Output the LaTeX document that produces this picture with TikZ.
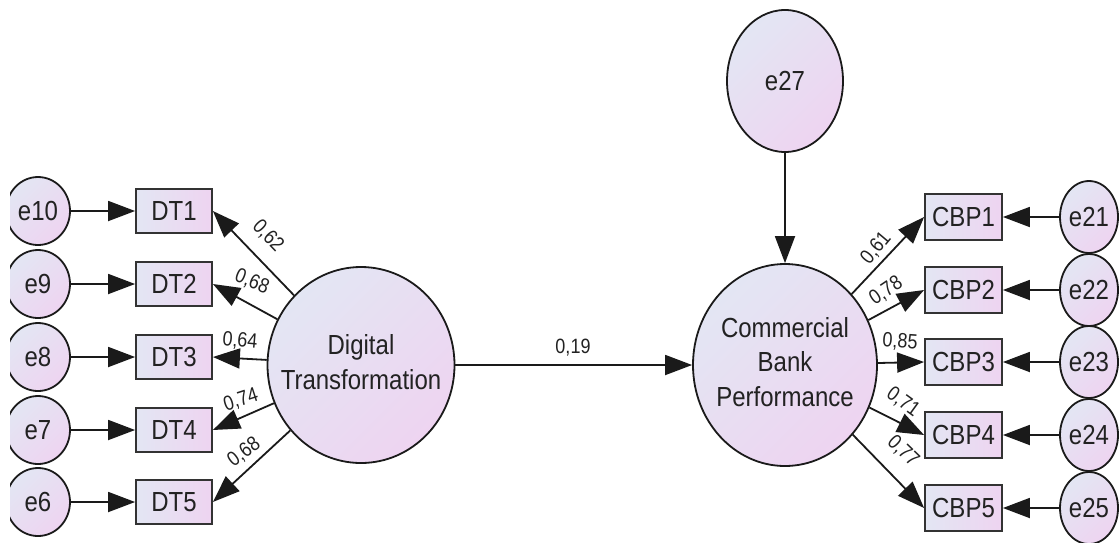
\documentclass[tikz,border=0pt]{standalone}
\usepackage{graphicx}
\usepackage{fontspec}
\setmainfont{Liberation Sans}
\usetikzlibrary{arrows.meta,shapes.geometric}

\definecolor{fillA}{HTML}{E3E6F3}
\definecolor{fillB}{HTML}{EED4F1}
\definecolor{edgeC}{HTML}{1A1A1A}
\definecolor{inkC}{HTML}{222222}

% text is set slightly taller than wide; zero width so the shape keeps its set size
\newcommand{\tall}[1]{\scalebox{1}[1.15]{#1}}
\newcommand{\inside}[1]{\makebox[0pt]{\tall{#1}}}

\tikzset{
  latent/.style={ellipse, draw=edgeC, line width=1.8pt, inner sep=0pt,
    top color=fillA, bottom color=fillB, shading angle=45,
    font=\fontsize{24}{30}\selectfont, text=inkC},
  obsbox/.style={rectangle, draw=black!80, line width=1.8pt, inner sep=0pt,
    minimum width=76pt, minimum height=44pt,
    left color=fillA, right color=fillB,
    font=\fontsize{24}{30}\selectfont, text=inkC},
  errc/.style={latent, minimum width=64pt, minimum height=68pt},
  errr/.style={latent, minimum width=58pt, minimum height=72pt},
  conn/.style={draw=edgeC, line width=1.8pt, -{Triangle[length=27pt,width=20pt]}},
  coef/.style={font=\fontsize{18}{20}\selectfont, inner sep=0pt, text=inkC},
}

\begin{document}
\begin{tikzpicture}[x=1pt,y=-1pt]
\useasboundingbox (0,0) rectangle (1119,542);

% latent constructs
\node[latent, minimum width=187pt, minimum height=196pt] (dt) at (361,365)
  {\inside{\begin{tabular}{@{}c@{}}Digital\\Transformation\end{tabular}}};
\node[latent, minimum width=184pt, minimum height=202pt] (cbp) at (785,365)
  {\inside{\begin{tabular}{@{}c@{}}Commercial\\Bank\\Performance\end{tabular}}};
\node[latent, minimum width=116pt, minimum height=142pt] (e27) at (785,81) {\inside{e27}};

% indicators of Digital Transformation
\foreach \i/\y in {1/211,2/284,3/357,4/430,5/502}
  \node[obsbox] (dt\i) at (174,\y) {\tall{DT\i}};

% indicators of Commercial Bank Performance
\foreach \i/\y in {1/217,2/290,3/362,4/435,5/508}
  \node[obsbox, minimum width=77pt, minimum height=46pt] (cbp\i) at (963.5,\y) {\tall{CBP\i}};

% error terms, left column (cut by the left margin)
\begin{scope}
  \clip (10,0) rectangle (1119,542);
  \foreach \n/\y in {10/211,9/284,8/357,7/430,6/502}
    \node[errc] (e\n) at (38,\y) {\inside{e\n}};
\end{scope}

% error terms, right column
\foreach \n/\y in {21/217,22/290,23/362,24/435,25/508}
  \node[errr] (e\n) at (1089,\y) {\inside{e\n}};

% error paths
\foreach \n/\i in {10/1,9/2,8/3,7/4,6/5}
  \draw[conn] (e\n) -- (dt\i);
\foreach \n/\i in {21/1,22/2,23/3,24/4,25/5}
  \draw[conn] (e\n) -- (cbp\i);
\draw[conn] (e27) -- (cbp);

% loadings
\foreach \i in {1,...,5}
  \draw[conn] (dt) -- (dt\i.east);
\foreach \i in {1,...,5}
  \draw[conn] (cbp) -- (cbp\i.west);

% structural path
\draw[conn] (dt) -- (cbp);

% coefficients
\node[coef] (c19) at (573,348) {\tall{0,19}};
\node[coef, rotate=-46] (l1) at (268,236) {\tall{0,62}};
\node[coef, rotate=-22] (l2) at (252,282) {\tall{0,68}};
\node[coef, rotate=-5]  (l3) at (240,341) {\tall{0,64}};
\node[coef, rotate=18]  (l4) at (241,400) {\tall{0,74}};
\node[coef, rotate=37]  (l5) at (244,452) {\tall{0,68}};
\node[coef, rotate=50]  (r1) at (876,248) {\tall{0,61}};
\node[coef, rotate=34]  (r2) at (886,291) {\tall{0,78}};
\node[coef, rotate=-4]  (r3) at (900,342) {\tall{0,85}};
\node[coef, rotate=-36] (r4) at (903,402) {\tall{0,71}};
\node[coef, rotate=-44] (r5) at (903,451) {\tall{0,77}};
\end{tikzpicture}
\end{document}
